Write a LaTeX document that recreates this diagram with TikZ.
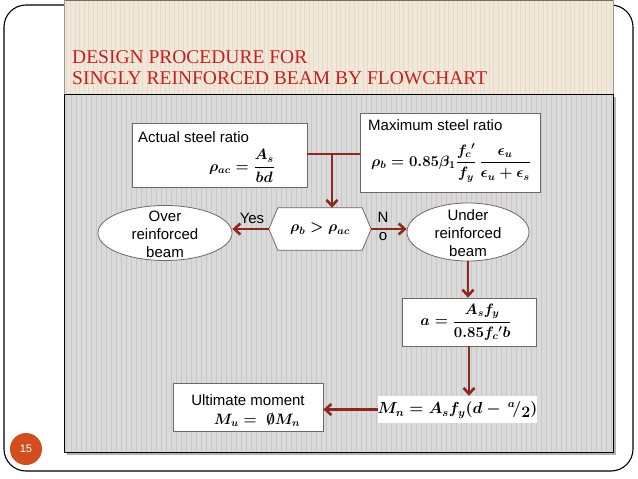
\RequirePackage{fix-cm}
\documentclass[tikz,border=0pt]{standalone}
\usepackage{amsmath,amssymb}
\usepackage{fontspec}
\setmainfont{Liberation Serif}
\setsansfont{Liberation Sans}
\usetikzlibrary{arrows.meta,shapes.geometric}
\definecolor{titlered}{RGB}{200,30,30}
\definecolor{beige}{RGB}{242,232,218}
\definecolor{beigeline}{RGB}{230,218,202}
\definecolor{panelgray}{RGB}{218,218,218}
\definecolor{stripegray}{RGB}{200,200,200}
\definecolor{arrowred}{RGB}{140,40,30}
\definecolor{boxborder}{RGB}{120,100,100}
\definecolor{badge}{RGB}{208,78,32}
\definecolor{panelframe}{RGB}{130,110,85}
\tikzset{
  box/.style={draw=boxborder, fill=white, line width=0.8pt, inner sep=0},
  oval/.style={ellipse, draw=boxborder, fill=white, line width=0.8pt, inner sep=0},
  flow/.style={draw=arrowred, line width=2.6pt, -{Straight Barb[length=6pt,width=11pt]}},
  link/.style={draw=arrowred, line width=2.6pt},
  lbl/.style={font=\sffamily\fontsize{15}{18}\selectfont, inner sep=0, align=center},
  mth/.style={font=\fontsize{15}{18}\selectfont\boldmath, inner sep=0},
}
\begin{document}
\begin{tikzpicture}[x=1pt,y=-1pt]
\useasboundingbox (0,0) rectangle (638,479);
\fill[white] (0,0) rectangle (638,479);
% outer frame
\draw[line width=1.1pt, rounded corners=22pt] (4,5) rectangle (633,471);
% beige header panel
\fill[beige] (64,0) rectangle (613,94);
\foreach \x in {66,70.5,...,612} \draw[beigeline, line width=0.9pt] (\x,1) -- (\x,94);
\draw[panelframe, line width=1pt] (64,0.5) -- (613,0.5);
\draw[black!40, line width=0.5pt] (64,0) -- (64,94) (613,0) -- (613,94);
% gray panel with shadow
\fill[black!30] (67,97) rectangle (616,455);
\fill[panelgray] (64,94) rectangle (613,452);
\foreach \x in {66,71,...,612} \draw[stripegray, line width=0.9pt] (\x,94) -- (\x,452);
\draw[black, line width=0.9pt] (64,94) rectangle (613,452);
% title
\node[anchor=north west, inner sep=0, align=left, text=titlered,
      font=\fontsize{19.5}{21}\selectfont] (title) at (72,50)
  {DESIGN PROCEDURE FOR\\SINGLY REINFORCED BEAM BY FLOWCHART};
% slide number
\node[circle, fill=badge, minimum size=32pt, inner sep=0, text=white,
      font=\sffamily\fontsize{11}{13}\selectfont] (badge) at (26,449) {15};
% boxes
\node[box, minimum width=175pt, minimum height=64pt] (act) at (219.5,155) {};
\node[lbl, anchor=west] (actt) at (138,137) {Actual steel ratio};
\node[mth] (actf) at (242,166) {$\rho_{ac}=\dfrac{A_s}{bd}$};
\node[box, minimum width=180pt, minimum height=79pt] (max) at (450,152.5) {};
\node[lbl, anchor=west] (maxt) at (368,125) {Maximum steel ratio};
\node[mth] (maxf) at (451,163) {$\rho_b = 0.85\beta_1\dfrac{f_c{}'}{f_y}\,\dfrac{\epsilon_u}{\epsilon_u+\epsilon_s}$};
% decision hexagon
\node[minimum width=102pt, minimum height=42pt, inner sep=0] (hex) at (320,229) {};
\filldraw[fill=white, draw=boxborder, line width=0.8pt]
  (hex.west) -- ([xshift=9pt]hex.north west) -- ([xshift=-9pt]hex.north east)
  -- (hex.east) -- ([xshift=-9pt]hex.south east) -- ([xshift=9pt]hex.south west) -- cycle;
\node[mth] (hext) at (320,229) {$\rho_b > \rho_{ac}$};
% ellipses
\node[oval, minimum width=134pt, minimum height=55pt] (over) at (165,233) {};
\node[lbl] (overt) at (165,234) {Over\\reinforced\\beam};
\node[oval, minimum width=122pt, minimum height=58pt] (under) at (468,232) {};
\node[lbl] (undert) at (468,233) {Under\\reinforced\\beam};
% a box
\node[box, minimum width=134pt, minimum height=48pt] (abox) at (469,322) {};
\node[mth] (af) at (466,322) {$a=\dfrac{A_s f_y}{0.85 f_c{}' b}$};
% Mn
\node[fill=white, minimum width=159pt, minimum height=27pt, inner sep=0] (mn) at (457.5,409.5) {};
\node[mth, font=\fontsize{16}{18}\selectfont\boldmath] (mnf) at (457.5,410)
  {$M_n = A_s f_y (d - \,{}^{a}\!/\lower0.45ex\hbox{$\mathbf{2}$})$};
% ultimate
\node[box, minimum width=150pt, minimum height=48pt] (ult) at (248,407) {};
\node[lbl] (ultt) at (248,400) {Ultimate moment};
\node[mth] (ultf) at (257,420) {$M_u = \;\emptyset M_n$};
% connectors
\coordinate (j) at (332,154);
\draw[link] (j -| act.east) -- (j -| max.west);
\draw[flow] (j) -- (j |- hex.north);
\draw[flow] (hex.west) -- (hex.west -| over.east);
\draw[flow] (hex.east) -- (hex.east -| under.west);
\draw[flow] (under.south) -- (under.south |- abox.north);
\draw[flow] (abox.south) -- (abox.south |- mn.north);
\draw[flow] (mn.west) -- (mn.west -| ult.east);
% labels
\node[lbl] (yes) at (252,218) {Yes};
\node[lbl] (nN) at (383,217) {N};
\node[lbl] (nO) at (383,237) {o};
\end{tikzpicture}
\end{document}
